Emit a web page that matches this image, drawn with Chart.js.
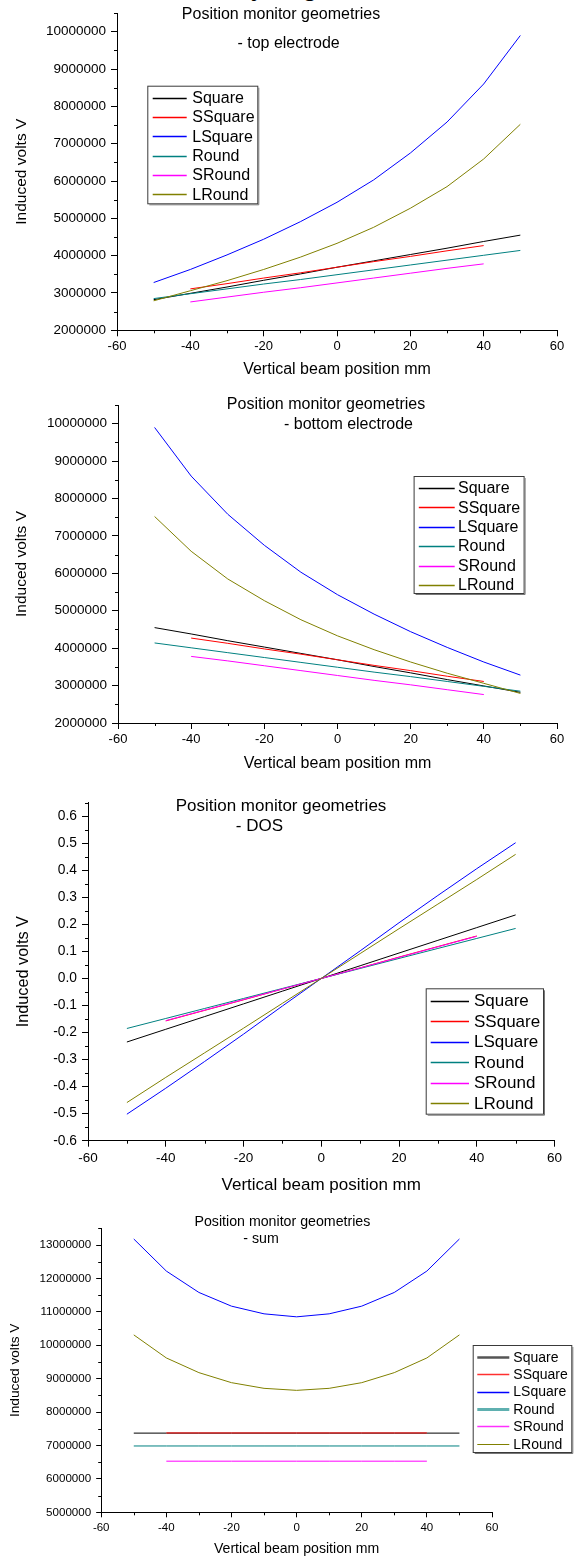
<!DOCTYPE html>
<html><head><meta charset="utf-8">
<script src="https://cdn.jsdelivr.net/npm/chart.js@4.4.0/dist/chart.umd.min.js"></script>
<style>
html,body{margin:0;padding:0;background:#fff;}
body{width:575px;height:1558px;position:relative;overflow:hidden;}
canvas{position:absolute;left:0;}
.cut{position:absolute;font-family:'Liberation Sans',Arial,sans-serif;font-size:28px;line-height:28px;color:#000;white-space:pre;}
</style></head><body>
<div class="cut" style="left:251px;top:-28px;">y</div>
<div class="cut" style="left:302px;top:-28px;">g</div>
<canvas id="c1" width="575" height="390" style="top:0px"></canvas>
<canvas id="c2" width="575" height="390" style="top:390px"></canvas>
<canvas id="c3" width="575" height="420" style="top:780px"></canvas>
<canvas id="c4" width="575" height="358" style="top:1200px"></canvas>
<script>
// ---------- DATA ----------
const seriesNames = ['Square','SSquare','LSquare','Round','SRound','LRound'];
const xFull  = [-50,-40,-30,-20,-10,0,10,20,30,40,50];
const xShort = [-40,-30,-20,-10,0,10,20,30,40];
const xTicks = [-60,-40,-20,0,20,40,60];
const yTicksElectrode = [2000000,3000000,4000000,5000000,6000000,7000000,8000000,9000000,10000000];
const yTicksDos = [-0.6,-0.5,-0.4,-0.3,-0.2,-0.1,0,0.1,0.2,0.3,0.4,0.5,0.6];
const yTicksSum = [5000000,6000000,7000000,8000000,9000000,10000000,11000000,12000000,13000000];

// top electrode (Induced volts V)
const topSquare  = [2820000,2990000,3160000,3340000,3510000,3690000,3860000,4030000,4200000,4380000,4550000];
const topSSquare = [3110000,3250000,3400000,3540000,3690000,3840000,3980000,4130000,4270000];
const topLSquare = [3280000,3630000,4020000,4440000,4910000,5430000,6030000,6750000,7580000,8600000,9900000];
const topRound   = [2850000,2980000,3110000,3240000,3360000,3490000,3620000,3750000,3880000,4010000,4140000];
const topSRound  = [2760000,2890000,3020000,3140000,3270000,3400000,3530000,3660000,3780000];
const topLRound  = [2790000,3060000,3330000,3630000,3960000,4330000,4760000,5270000,5850000,6590000,7520000];

// bottom electrode
const botSquare  = [4550000,4380000,4200000,4030000,3860000,3690000,3510000,3340000,3160000,2990000,2820000];
const botSSquare = [4270000,4130000,3980000,3840000,3690000,3540000,3400000,3250000,3110000];
const botLSquare = [9900000,8600000,7580000,6750000,6030000,5430000,4910000,4440000,4020000,3630000,3280000];
const botRound   = [4140000,4010000,3880000,3750000,3620000,3490000,3360000,3240000,3110000,2980000,2850000];
const botSRound  = [3780000,3660000,3530000,3400000,3270000,3140000,3020000,2890000,2760000];
const botLRound  = [7520000,6590000,5850000,5270000,4760000,4330000,3960000,3630000,3330000,3060000,2790000];

// DOS
const dosSquare  = [-0.235,-0.188,-0.141,-0.094,-0.047,0,0.047,0.094,0.141,0.188,0.235];
const dosSSquare = [-0.157,-0.118,-0.079,-0.039,0,0.039,0.079,0.118,0.157];
const dosLSquare = [-0.502,-0.406,-0.307,-0.206,-0.102,0,0.102,0.206,0.307,0.406,0.502];
const dosRound   = [-0.185,-0.148,-0.111,-0.074,-0.037,0,0.037,0.074,0.111,0.148,0.185];
const dosSRound  = [-0.156,-0.117,-0.078,-0.039,0,0.039,0.078,0.117,0.156];
const dosLRound  = [-0.459,-0.366,-0.275,-0.184,-0.092,0,0.092,0.184,0.275,0.366,0.459];

// sum
const sumSquare  = [7370000,7370000,7370000,7370000,7370000,7370000,7370000,7370000,7370000,7370000,7370000];
const sumSSquare = [7375000,7375000,7375000,7375000,7375000,7375000,7375000,7375000,7375000];
const sumLSquare = [13180000,12220000,11580000,11170000,10940000,10850000,10940000,11170000,11580000,12220000,13180000];
const sumRound   = [6985000,6985000,6985000,6985000,6985000,6985000,6985000,6985000,6985000,6985000,6985000];
const sumSRound  = [6530000,6530000,6530000,6530000,6530000,6530000,6530000,6530000,6530000];
const sumLRound  = [10310000,9620000,9180000,8880000,8710000,8650000,8710000,8880000,9180000,9620000,10310000];

// ---------- STYLE ----------
const FONT = "'Liberation Sans', Arial, Helvetica, sans-serif";
const COLORS = ['#000000','#ff0000','#0000ff','#008080','#ff00ff','#808000'];

function datasets(series){
  return series.map((vals,i)=>{
    const xs = (i===1||i===4) ? xShort : xFull;
    return {
      label: seriesNames[i],
      data: xs.map((x,j)=>({x:x, y:vals[j]})),
      borderColor: COLORS[i], backgroundColor: COLORS[i],
      borderWidth: 1, pointRadius: 0, tension: 0, fill: false,
      order: 5 - i
    };
  });
}

const decor = {
  id: 'decor',
  afterDraw(chart, args, o){
    const ctx = chart.ctx, a = chart.chartArea;
    const xs = chart.scales.x, ys = chart.scales.y;
    ctx.save();
    ctx.strokeStyle = '#000'; ctx.lineWidth = 1;
    // minor ticks
    ctx.beginPath();
    for (let v = xs.min + o.xStep/2; v < xs.max; v += o.xStep){
      const p = Math.round(xs.getPixelForValue(v)) + 0.5;
      ctx.moveTo(p, a.bottom); ctx.lineTo(p, a.bottom + o.minor);
    }
    for (let v = ys.min + o.yStep/2; v <= ys.max + 1e-9*o.yStep; v += o.yStep){
      const p = Math.round(ys.getPixelForValue(v)) + 0.5;
      ctx.moveTo(a.left, p); ctx.lineTo(a.left - o.minor, p);
    }
    ctx.stroke();
    // titles
    ctx.fillStyle = '#000'; ctx.textBaseline = 'middle'; ctx.textAlign = 'center';
    o.titles.forEach(t=>{
      ctx.font = t.s + 'px ' + FONT;
      ctx.fillText(t.t, t.x, t.y);
    });
    // legend
    const L = o.legend;
    ctx.fillStyle = '#fff';
    ctx.fillRect(L.x, L.y, L.w, L.h);
    ctx.strokeStyle = '#3a3a3a'; ctx.lineWidth = 1;
    ctx.strokeRect(L.x + 0.5, L.y + 0.5, L.w, L.h);
    ctx.beginPath();
    ctx.moveTo(L.x + L.w + 1.5, L.y + 2); ctx.lineTo(L.x + L.w + 1.5, L.y + L.h + 1.5);
    ctx.lineTo(L.x + 2, L.y + L.h + 1.5);
    ctx.strokeStyle = '#777'; ctx.stroke();
    ctx.font = L.size + 'px ' + FONT;
    ctx.textAlign = 'left';
    chart.data.datasets.forEach((d,i)=>{
      const y = L.row0 + i*L.dy;
      ctx.beginPath();
      ctx.strokeStyle = (L.colors && L.colors[i]) || d.borderColor;
      ctx.lineWidth = (L.widths && L.widths[i]) || 1.3;
      ctx.moveTo(L.l0, Math.round(y)+0.5); ctx.lineTo(L.l1, Math.round(y)+0.5);
      ctx.stroke();
      ctx.fillStyle = '#000';
      ctx.fillText(d.label, L.tx, y + 1);
    });
    ctx.restore();
  }
};

function build(id, cfg){
  const tickFontX = {family: FONT, size: cfg.xFont};
  const tickFontY = {family: FONT, size: cfg.yFont};
  return new Chart(document.getElementById(id), {
    type: 'line',
    data: { datasets: datasets(cfg.series) },
    plugins: [decor],
    options: {
      responsive: false, animation: false, devicePixelRatio: 1,
      layout: { padding: { top: cfg.pt, right: cfg.pr, left: 0, bottom: 0 } },
      plugins: { legend: {display:false}, tooltip: {enabled:false}, decor: cfg.decor },
      scales: {
        x: {
          type: 'linear', min: -60, max: 60,
          afterBuildTicks: s => { s.ticks = xTicks.map(v=>({value:v})); },
          ticks: { font: tickFontX, color: '#000', padding: cfg.xPad, maxRotation: 0, autoSkip: false },
          grid: { display: true, drawOnChartArea: false, drawTicks: true, tickLength: cfg.tl, color: '#000', tickColor: '#000' },
          border: { display: true, color: '#000', width: 1 },
          title: { display: true, text: 'Vertical beam position mm', color: '#000',
                   font: {family: FONT, size: cfg.xtSize, lineHeight: 1}, padding: {top: 0, bottom: cfg.xtPad} },
          afterFit: s => { s.height = cfg.xH; }
        },
        y: {
          type: 'linear', min: cfg.yMin, max: cfg.yMax,
          afterBuildTicks: s => { s.ticks = cfg.yTicks.map(v=>({value:v})); },
          ticks: { font: tickFontY, color: '#000', padding: cfg.yPad, autoSkip: false,
                   callback: cfg.yFmt },
          grid: { display: true, drawOnChartArea: false, drawTicks: true, tickLength: cfg.tl, color: '#000', tickColor: '#000' },
          border: { display: true, color: '#000', width: 1 },
          title: { display: true, text: 'Induced volts V', color: '#000',
                   font: {family: FONT, size: cfg.ytSize, lineHeight: 1}, padding: {top: cfg.ytPad, bottom: 0} },
          afterFit: s => { s.width = cfg.yW; }
        }
      }
    }
  });
}

const bigFmt = v => String(Math.round(v));
const dosFmt = v => (Math.abs(v) < 1e-9 ? '0.0' : v.toFixed(1));

build('c1', {
  series: [topSquare, topSSquare, topLSquare, topRound, topSRound, topLRound],
  pt: 12, pr: 18, yW: 117, xH: 59.7, tl: 6,
  xFont: 13, yFont: 13.5, xPad: 2.6, yPad: 5,
  xtSize: 16, xtPad: 12, ytSize: 15.5, ytPad: 14,
  yMin: 2000000, yMax: 10500000, yTicks: yTicksElectrode, yFmt: bigFmt,
  decor: { xStep: 20, yStep: 1000000, minor: 3,
    titles: [{t:'Position monitor geometries', x:281, y:14.7, s:16}, {t:'- top electrode', x:288.6, y:43.3, s:16}],
    legend: { x:147.3, y:85.7, w:110, h:117.6, row0:97.7, dy:19.3, l0:152.7, l1:186.7, tx:192.3, size:16 } }
});

build('c2', {
  series: [botSquare, botSSquare, botLSquare, botRound, botSRound, botLRound],
  pt: 15, pr: 18, yW: 118, xH: 57, tl: 6,
  xFont: 13, yFont: 13.5, xPad: 2.6, yPad: 5,
  xtSize: 16, xtPad: 8.7, ytSize: 15.5, ytPad: 14.2,
  yMin: 2000000, yMax: 10500000, yTicks: yTicksElectrode, yFmt: bigFmt,
  decor: { xStep: 20, yStep: 1000000, minor: 3,
    titles: [{t:'Position monitor geometries', x:326, y:14.3, s:16}, {t:'- bottom electrode', x:348.5, y:34.3, s:16}],
    legend: { x:413.6, y:86, w:110, h:117, row0:97.7, dy:19.45, l0:418.8, l1:454.7, tx:458, size:16 } }
});

build('c3', {
  series: [dosSquare, dosSSquare, dosLSquare, dosRound, dosSRound, dosLRound],
  pt: 22.7, pr: 20.5, yW: 88, xH: 59.3, tl: 6,
  xFont: 13.5, yFont: 13.8, xPad: 3.5, yPad: 5,
  xtSize: 17, xtPad: 6.5, ytSize: 16.3, ytPad: 15.6,
  yMin: -0.6, yMax: 0.65, yTicks: yTicksDos, yFmt: dosFmt,
  decor: { xStep: 20, yStep: 0.1, minor: 3,
    titles: [{t:'Position monitor geometries', x:281, y:26.7, s:17}, {t:'- DOS', x:259.4, y:46.7, s:17}],
    legend: { x:425.7, y:208.3, w:117.3, h:125.4, row0:220.7, dy:20.5, l0:430.7, l1:469, tx:474, size:17 } }
});

build('c4', {
  series: [sumSquare, sumSSquare, sumLSquare, sumRound, sumSRound, sumLRound],
  pt: 28.3, pr: 83, yW: 101.2, xH: 45.7, tl: 5,
  xFont: 11.5, yFont: 11.6, xPad: 4.1, yPad: 5,
  xtSize: 14.1, xtPad: 2, ytSize: 13.7, ytPad: 8.5,
  yMin: 5000000, yMax: 13500000, yTicks: yTicksSum, yFmt: bigFmt,
  decor: { xStep: 20, yStep: 1000000, minor: 3,
    titles: [{t:'Position monitor geometries', x:282.4, y:22.3, s:14.2}, {t:'- sum', x:261, y:39.3, s:14.2}],
    legend: { x:472.7, y:145, w:98.6, h:107, row0:156.7, dy:17.4, l0:477.3, l1:509.3, tx:513.3, size:14,
      colors: ['#555555','#ff3030','#0000ff','#5fb0b0','#ff30ff','#808000'], widths: [2.5,1.5,1.5,3,1.5,1.2] } }
});
</script>
</body></html>
